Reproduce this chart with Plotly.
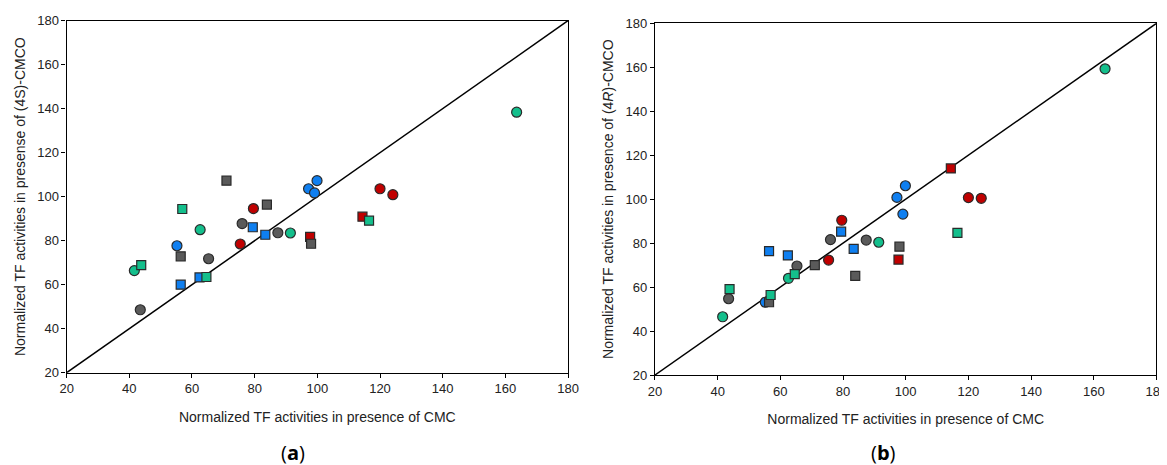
import plotly.graph_objects as go

# Point groups (color, symbol) shared by both panels
groups = ["teal", "teal", "gray", "blue", "gray", "blue", "teal", "teal", "blue", "teal",
          "gray", "gray", "red", "gray", "blue", "red", "blue", "gray", "gray", "teal",
          "blue", "blue", "blue", "red", "gray", "red", "teal", "red", "red", "teal"]
shapes = ["circle", "square", "circle", "circle", "square", "square", "square", "circle", "square", "square",
          "circle", "square", "circle", "circle", "square", "circle", "square", "square", "circle", "circle",
          "circle", "circle", "circle", "square", "square", "square", "square", "circle", "circle", "circle"]

# Normalized TF activities in presence of CMC (x, both panels)
cmc = [41.6, 43.8, 43.5, 55.2, 56.4, 56.4, 56.9, 62.6, 62.4, 64.6,
       65.3, 71.0, 75.4, 76.0, 79.4, 79.6, 83.4, 83.9, 87.4, 91.4,
       97.2, 99.1, 99.9, 97.7, 98.0, 114.4, 116.5, 120.0, 124.1, 163.6]

# Panel (a): (4S)-CMCO
cmco_4s = [66.4, 68.9, 48.6, 77.7, 72.9, 60.0, 94.4, 85.0, 63.3, 63.5,
           71.8, 107.3, 78.5, 87.8, 86.1, 94.6, 82.7, 96.4, 83.6, 83.5,
           103.6, 101.7, 107.3, 81.7, 78.6, 90.9, 89.1, 103.6, 100.9, 138.4]

# Panel (b): (4R)-CMCO
cmco_4r = [46.5, 59.1, 54.7, 53.1, 53.1, 76.4, 56.4, 64.0, 74.4, 65.9,
           69.6, 70.0, 72.3, 81.6, 85.2, 90.4, 77.4, 65.1, 81.4, 80.4,
           100.8, 93.2, 106.1, 72.5, 78.4, 114.0, 84.7, 100.7, 100.4, 159.3]

ticks = [20, 40, 60, 80, 100, 120, 140, 160, 180]
diag = [20, 180]

palette = {"red": "#c00000", "blue": "#0f7ff0", "teal": "#14bf8c", "gray": "#5a5a5a"}

fig = go.Figure()

def add_panel(yvals, xa, ya):
    fig.add_trace(go.Scatter(x=diag, y=diag, mode="lines", xaxis=xa, yaxis=ya,
                             line=dict(color="black", width=1.5), showlegend=False, hoverinfo="skip"))
    for shp in ["circle", "square"]:
        idx = [i for i in range(len(cmc)) if shapes[i] == shp]
        fig.add_trace(go.Scatter(
            x=[cmc[i] for i in idx], y=[yvals[i] for i in idx], mode="markers",
            xaxis=xa, yaxis=ya, showlegend=False,
            marker=dict(symbol=shp, size=10 if shp == "circle" else 9,
                        color=[palette[groups[i]] for i in idx],
                        line=dict(color="#2a2a2a", width=1.2))))

add_panel(cmco_4s, "x", "y")
add_panel(cmco_4r, "x2", "y2")

axis_common = dict(range=[20, 180], tickvals=ticks, showgrid=False, zeroline=False,
                   showline=True, linecolor="black", linewidth=1.3, mirror=True,
                   ticks="outside", ticklen=4, tickcolor="black", automargin=False,
                   ticklabeloverflow="allow",
                   tickfont=dict(family="Liberation Sans, Arial", size=13, color="#222"))

title_font = dict(family="Liberation Sans, Arial", size=14, color="#222")

fig.update_layout(
    width=1159, height=457,
    margin=dict(l=0, r=0, t=0, b=0),
    paper_bgcolor="white", plot_bgcolor="white",
    xaxis=dict(domain=[0.0506, 0.4832], anchor="y", **axis_common,
               title=dict(text="Normalized TF activities in presence of CMC", font=title_font, standoff=16)),
    yaxis=dict(domain=[0.2020, 0.9722], anchor="x", **axis_common,
               title=dict(text="Normalized TF activities in presense of (4S)-CMCO", font=title_font, standoff=8)),
    xaxis2=dict(domain=[0.5582, 0.9909], anchor="y2", **axis_common,
                title=dict(text="Normalized TF activities in presence of CMC", font=title_font, standoff=16)),
    yaxis2=dict(domain=[0.1969, 0.9665], anchor="x2", **axis_common,
                title=dict(text="Normalized TF activities in presence of (4<i>R</i>)-CMCO", font=title_font, standoff=8)),
    annotations=[
        dict(text="(<b>a</b>)", x=0.2459, y=0.0284, xref="paper", yref="paper", showarrow=False,
             xanchor="center", yanchor="middle",
             font=dict(family="Open Sans, Liberation Sans", size=20, color="black")),
        dict(text="(<b>b</b>)", x=0.7558, y=0.0284, xref="paper", yref="paper", showarrow=False,
             xanchor="center", yanchor="middle",
             font=dict(family="Open Sans, Liberation Sans", size=20, color="black")),
    ],
)

fig.write_html("out.html")
